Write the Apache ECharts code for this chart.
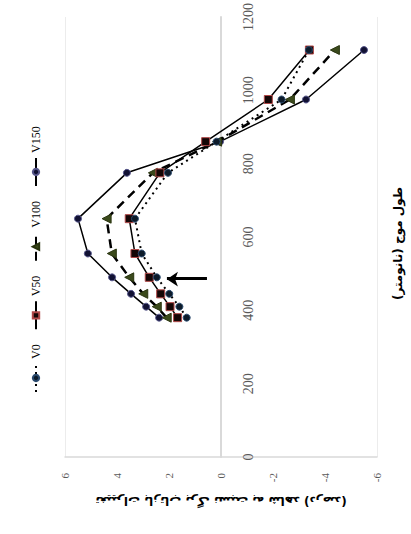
<!DOCTYPE html>
<html>
<head>
<meta charset="utf-8">
<script src="https://cdn.jsdelivr.net/npm/echarts@6/dist/echarts.min.js"></script>
<style>
  html, body { margin: 0; padding: 0; background: #fff; overflow: hidden; width: 411px; height: 534px; }
  #chart { position: absolute; left: 0; top: 0; width: 534px; height: 411px;
           transform-origin: 0 0; transform: translate(0, 534px) rotate(-90deg); }
</style>
</head>
<body>
<div id="chart"></div>
<script>
// wavelengths (nm)
const wavelengths = [380, 410, 445, 490, 555, 650, 775, 860, 975, 1110];
// series values
const seriesNames = ['V0', 'V50', 'V100', 'V150'];
const v0   = [1.32, 1.60, 1.99, 2.47, 3.05, 3.31, 2.04, 0.17, -2.33, -3.38];
const v50  = [1.67, 1.96, 2.32, 2.76, 3.31, 3.53, 2.35, 0.59, -1.82, -3.40];
const v100 = [2.09, 2.47, 2.99, 3.53, 4.20, 4.40, 2.62, 0.15, -2.65, -4.38];
const v150 = [2.38, 2.88, 3.46, 4.19, 5.12, 5.50, 3.62, 0.04, -3.27, -5.50];
// axis ticks
const xTicks = [0, 200, 400, 600, 800, 1000, 1200];
const yTicks = [-6, -4, -2, 0, 2, 4, 6];
// arrow annotation (data coords)
const arrowWave = 485;
const arrowFrom = 0.54;
const arrowTo = 2.08;
// titles
const xTitle = 'طول موج (نانومتر)';
const yTitle = 'تغییرات بازتاب برگ نسبت به شاهد (درصد)';

const pair = arr => wavelengths.map((w, i) => [w, arr[i]]);

const chart = echarts.init(document.getElementById('chart'), null, { renderer: 'svg' });
chart.setOption({
  animation: false,
  backgroundColor: '#fff',
  textStyle: { fontFamily: 'Liberation Serif' },
  legend: {
    data: seriesNames,
    left: 136, top: 25,
    itemWidth: 28, itemHeight: 8, itemGap: 14,
    textStyle: { fontSize: 12, color: '#000', fontFamily: 'Liberation Serif' }
  },
  graphic: [{
    type: 'text', left: 234, top: 392, silent: true,
    style: { text: xTitle, font: 'bold 12px "DejaVu Sans"', fill: '#000' }
  }],
  grid: { left: 77, right: 17, top: 65, bottom: 34, containLabel: false, outerBoundsMode: 'none' },
  xAxis: {
    type: 'value', min: xTicks[0], max: xTicks[xTicks.length - 1], interval: 200,
    position: 'bottom', offset: -156,
    axisLine: { show: true, onZero: false, lineStyle: { color: '#d9d9d9', width: 2 } },
    axisTick: { show: false },
    axisLabel: { fontSize: 14, color: '#595959', margin: 20, fontFamily: 'Liberation Serif',
                 formatter: v => String(v) },
    splitLine: { show: false }
  },
  yAxis: [{
    type: 'value', min: yTicks[0], max: yTicks[yTicks.length - 1], interval: 2,
    name: yTitle, nameLocation: 'middle', nameRotate: 90, nameGap: 38,
    nameTextStyle: { fontFamily: 'DejaVu Sans', fontSize: 12, fontWeight: 'bold', color: '#000' },
    axisLine: { show: true, onZero: false, lineStyle: { color: '#d9d9d9', width: 1.5 } },
    axisTick: { show: false },
    axisLabel: { fontSize: 11, color: '#595959', margin: 16, fontFamily: 'Liberation Serif' },
    splitLine: { show: false }
  }, {
    type: 'value', min: yTicks[0], max: yTicks[yTicks.length - 1], interval: 6,
    position: 'left',
    axisLine: { show: false, onZero: false }, axisTick: { show: false }, axisLabel: { show: false },
    splitLine: { show: true, lineStyle: { color: '#ececec', width: 1 } }
  }],
  series: [
    {
      name: 'V0', type: 'line', data: pair(v0), z: 5,
      symbol: 'circle', symbolSize: 7,
      lineStyle: { color: '#000', width: 2, type: [2, 4] },
      itemStyle: { color: '#0d1b2a', borderColor: '#2a4a6e', borderWidth: 1 },
      markLine: {
        silent: true, symbol: ['none', 'arrow'], symbolSize: 11,
        label: { show: false },
        lineStyle: { color: '#000', width: 3, type: 'solid' },
        data: [[{ coord: [arrowWave, arrowFrom] }, { coord: [arrowWave, arrowTo] }]]
      }
    },
    {
      name: 'V50', type: 'line', data: pair(v50), z: 4,
      symbol: 'rect', symbolSize: 8,
      lineStyle: { color: '#000', width: 1.5, type: 'solid' },
      itemStyle: { color: '#140606', borderColor: '#b04848', borderWidth: 1 }
    },
    {
      name: 'V100', type: 'line', data: pair(v100), z: 3,
      symbol: 'triangle', symbolSize: 9,
      lineStyle: { color: '#000', width: 2.5, type: [9, 6] },
      itemStyle: { color: '#3b4a1c', borderColor: '#2a3510', borderWidth: 1 }
    },
    {
      name: 'V150', type: 'line', data: pair(v150), z: 2,
      symbol: 'circle', symbolSize: 7,
      lineStyle: { color: '#000', width: 1.5, type: 'solid' },
      itemStyle: { color: '#111133', borderColor: '#55558a', borderWidth: 1 }
    }
  ]
});
</script>
</body>
</html>
